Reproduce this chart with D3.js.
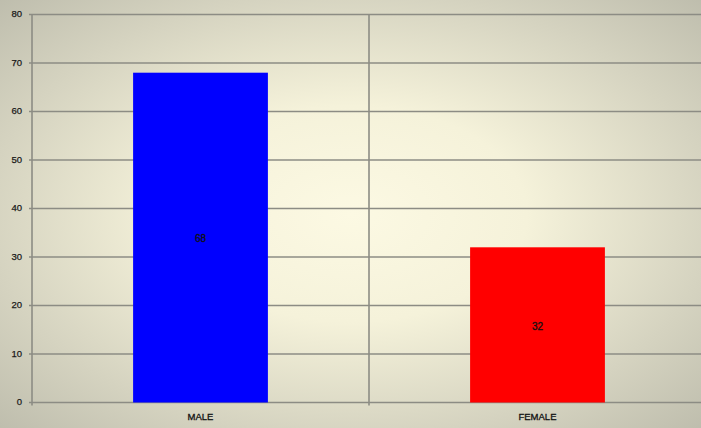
<!DOCTYPE html>
<html>
<head>
<meta charset="utf-8">
<script src="https://cdn.jsdelivr.net/npm/d3@7/dist/d3.min.js"></script>
<style>
  html, body { margin: 0; padding: 0; background: #d8d6c4; }
  svg { display: block; }
</style>
</head>
<body>
<svg id="chart" width="701" height="428"></svg>
<script>
// Gender breakdown
const categories = ["MALE", "FEMALE"];
const values = [68, 32];
const barColors = ["#0000ff", "#ff0000"];
const yTicks = [0, 10, 20, 30, 40, 50, 60, 70, 80];

const W = 701, H = 428;
const margin = { left: 32, right: -5, top: 14.5, bottom: 25.5 };

const svg = d3.select("#chart");

// soft radial backdrop, light in the middle and greyer toward the edges
const defs = svg.append("defs");
const grad = defs.append("radialGradient")
  .attr("id", "bg").attr("cx", "50%").attr("cy", "50%").attr("r", "72%");
grad.append("stop").attr("offset", "0%").attr("stop-color", "#fcf9e3");
grad.append("stop").attr("offset", "35%").attr("stop-color", "#f5f2da");
grad.append("stop").attr("offset", "72%").attr("stop-color", "#d5d3c0");
grad.append("stop").attr("offset", "100%").attr("stop-color", "#bdbcac");
svg.append("rect").attr("width", W).attr("height", H).attr("fill", "url(#bg)");

const x = d3.scaleBand()
  .domain(categories)
  .range([margin.left, W - margin.right])
  .paddingInner(0).paddingOuter(0);

const y = d3.scaleLinear()
  .domain([0, 80])
  .range([H - margin.bottom, margin.top]);

const gridColor = "#8c8c84";
const font = "Liberation Sans, Arial, sans-serif";

// horizontal gridlines with small tick stubs to the left of the axis
svg.append("g").selectAll("line").data(yTicks).join("line")
  .attr("x1", margin.left - 3).attr("x2", W)
  .attr("y1", d => y(d)).attr("y2", d => y(d))
  .attr("stroke", gridColor).attr("stroke-width", 1.6);

// category separators and left axis
const seps = [margin.left].concat(categories.slice(1).map(c => x(c)));
svg.append("g").selectAll("line").data(seps).join("line")
  .attr("x1", d => d).attr("x2", d => d)
  .attr("y1", y(80)).attr("y2", y(0) + 3)
  .attr("stroke", gridColor).attr("stroke-width", 1.6);

// bars
const barW = x.bandwidth() * 0.4;
svg.append("g").selectAll("rect").data(values).join("rect")
  .attr("x", (d, i) => x(categories[i]) + (x.bandwidth() - barW) / 2)
  .attr("width", barW)
  .attr("y", d => y(d))
  .attr("height", d => y(0) - y(d))
  .attr("fill", (d, i) => barColors[i]);

// value labels centred in each bar
svg.append("g").selectAll("text").data(values).join("text")
  .attr("x", (d, i) => x(categories[i]) + x.bandwidth() / 2)
  .attr("y", d => (y(d) + y(0)) / 2 + 2)
  .attr("text-anchor", "middle").attr("dominant-baseline", "middle")
  .attr("font-family", font)
  .attr("font-size", 10).attr("fill", "#111")
  .attr("stroke", "#111").attr("stroke-width", 0.3)
  .text(d => d);

// y tick labels
svg.append("g").selectAll("text").data(yTicks).join("text")
  .attr("x", 22).attr("y", d => y(d))
  .attr("text-anchor", "end").attr("dominant-baseline", "middle")
  .attr("font-family", font)
  .attr("font-size", 9.5).attr("fill", "#1a1a1a")
  .attr("stroke", "#1a1a1a").attr("stroke-width", 0.25)
  .text(d => d);

// category labels
svg.append("g").selectAll("text").data(categories).join("text")
  .attr("x", d => x(d) + x.bandwidth() / 2)
  .attr("y", y(0) + 17)
  .attr("text-anchor", "middle")
  .attr("font-family", font)
  .attr("font-size", 9.5).attr("fill", "#111")
  .attr("stroke", "#111").attr("stroke-width", 0.3)
  .text(d => d);
</script>
</body>
</html>
